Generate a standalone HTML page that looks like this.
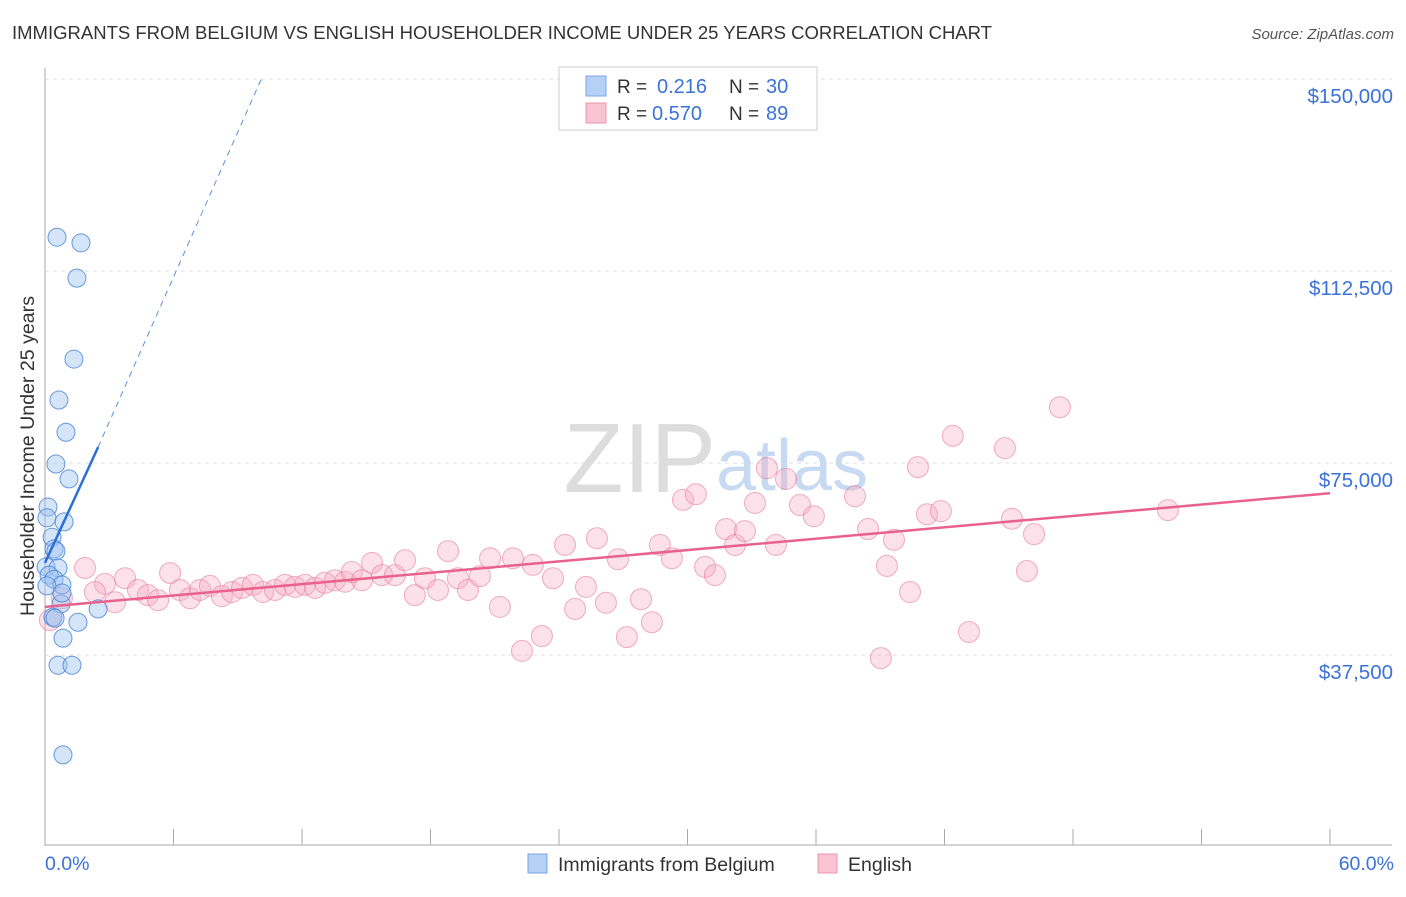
<!DOCTYPE html>
<html><head><meta charset="utf-8"><style>
body{margin:0;background:#fff;font-family:"Liberation Sans",sans-serif;}
svg text{font-family:"Liberation Sans",sans-serif;}
</style></head><body>
<svg id="c" width="1406" height="892">
<text x="12" y="39" font-size="18" fill="#333" textLength="980" lengthAdjust="spacingAndGlyphs">IMMIGRANTS FROM BELGIUM VS ENGLISH HOUSEHOLDER INCOME UNDER 25 YEARS CORRELATION CHART</text>
<text x="1394" y="39" font-size="15" fill="#555" font-style="italic" text-anchor="end">Source: ZipAtlas.com</text>
<text transform="translate(34,456) rotate(-90)" font-size="19" fill="#333" text-anchor="middle" textLength="320" lengthAdjust="spacingAndGlyphs">Householder Income Under 25 years</text>
<g id="grid"></g>
<text x="716" y="492" font-size="98" fill="#ddd" text-anchor="end" font-family="Liberation Serif">ZIP</text>
<text x="716" y="490" font-size="72" fill="#c8daf2">atlas</text>
<g id="marks"></g>
<g>
<rect x="559" y="67" width="258" height="63" fill="#fff" stroke="#ccc"/>
<rect x="586" y="76" width="20" height="20" fill="#b5d0f5" stroke="#7aa6e6"/>
<text x="617" y="93" font-size="19" fill="#333">R = </text><text x="657" y="93" font-size="20" fill="#3a72d8">0.216</text>
<text x="729" y="93" font-size="19" fill="#333">N = </text><text x="766" y="93" font-size="20" fill="#3a72d8">30</text>
<rect x="586" y="103" width="20" height="20" fill="#f8c4d4" stroke="#ec94b0"/>
<text x="617" y="120" font-size="19" fill="#333">R = </text><text x="652" y="120" font-size="20" fill="#3a72d8">0.570</text>
<text x="729" y="120" font-size="19" fill="#333">N = </text><text x="766" y="120" font-size="20" fill="#3a72d8">89</text>
</g>
<g>
<rect x="528" y="854" width="19" height="19" fill="#b5d0f5" stroke="#7aa6e6"/>
<text x="558" y="871" font-size="19.5" fill="#333">Immigrants from Belgium</text>
<rect x="818" y="854" width="19" height="19" fill="#f8c4d4" stroke="#ec94b0"/>
<text x="848" y="871" font-size="19.5" fill="#333">English</text>
</g>
</svg>
<script>
const yTicks=[37500,75000,112500,150000];
const yTickLabels=["$37,500","$75,000","$112,500","$150,000"];
const xTickLabels=["0.0%","60.0%"];
const blueX=[0.56,1.68,1.49,1.35,0.65,0.98,0.51,1.12,0.14,0.09,0.89,0.33,0.42,0.51,0.05,0.61,0.19,0.42,0.79,0.09,0.75,0.79,2.48,0.37,0.47,1.54,0.84,0.61,1.26,0.84];
const blueY=[119100,118000,111100,95300,87300,81000,74800,71900,66400,64300,63500,60500,58200,57800,54700,54500,53100,52300,51200,51000,47500,49600,46500,44900,44700,43900,40800,35500,35500,18000];
const pinkX=[1.87,2.80,3.74,3.27,2.33,4.34,4.81,5.28,5.84,6.30,6.77,7.24,7.70,8.26,8.73,9.20,9.71,10.18,10.74,11.21,11.67,12.14,12.61,13.07,13.54,14.01,14.33,14.80,15.27,15.74,16.34,16.81,17.27,17.74,18.35,18.82,19.28,19.75,20.31,20.78,21.24,21.85,22.27,22.78,23.20,23.72,24.28,24.75,25.26,25.77,26.19,26.75,27.17,27.83,28.34,28.71,29.27,29.79,30.39,30.82,31.28,31.80,32.22,32.68,33.15,33.71,34.13,34.60,35.25,35.90,37.82,38.43,39.03,39.31,39.64,40.39,40.76,41.18,41.83,42.39,43.14,44.82,45.15,45.85,46.18,47.39,52.43,0.23,0.79];
const pinkY=[54500,51400,52500,47800,49800,50200,49200,48200,53500,50200,48600,50200,51000,49000,49800,50600,51200,49800,50200,51200,50800,51200,50600,51600,52100,51800,53700,52100,55500,53100,53100,56000,49200,52500,50200,57800,52500,50200,52900,56400,46900,56400,38300,55100,41200,52500,59000,46500,50800,60300,47700,56200,41000,48400,43900,59000,56400,67800,68900,54700,53100,62100,59000,61700,67200,74000,59000,71900,66800,64600,68500,62100,36900,54900,60000,49800,74200,65000,65600,80300,42000,77900,64100,53900,61100,85900,65800,44300,48600];
const blueTrend=[0,55500,2.48,78100];
const blueDash=[2.48,78100,10.1,150000];
const pinkTrend=[0,46900,60,69100];
const X=v=>45+v/60*1285;
const Y=v=>847-v/150000*768;
const NS="http://www.w3.org/2000/svg";
const grid=document.getElementById('grid'),marks=document.getElementById('marks');
function mk(tag,at,parent){const e=document.createElementNS(NS,tag);for(const k in at)e.setAttribute(k,at[k]);parent.appendChild(e);return e;}
let ax=mk('line',{x1:45,y1:68,x2:45,y2:846,stroke:'#aaa'},grid);


let bx=mk('line',{x1:45,y1:845,x2:1392,y2:845,stroke:'#aaa'},grid);


yTicks.forEach((t,i)=>{
 let g=mk('line',{x1:45,y1:Y(t),x2:1392,y2:Y(t),stroke:'#ddd','stroke-dasharray':'4,4'},grid);
 
 
 let l=mk('text',{x:1393,y:Y(t)+24,'font-size':20.5,fill:'#3a72d8','text-anchor':'end'},grid);
 l.textContent=yTickLabels[i];
 
 
});
for(let i=0;i<=10;i++){let t=mk('line',{x1:X(i*6),y1:829,x2:X(i*6),y2:845,stroke:'#aaa'},grid);
 
 }
[[0,'start',45],[1,'end',1394]].forEach(([i,a,x])=>{let l=mk('text',{x:x,y:870,'font-size':19.5,fill:'#3a72d8','text-anchor':a},grid);l.textContent=xTickLabels[i];
 
 });
pinkX.forEach((v,i)=>{let c=mk('circle',{cx:X(v),cy:Y(pinkY[i]),r:10.5,fill:'rgba(246,170,194,0.35)',stroke:'rgba(232,120,155,0.6)','stroke-width':1},marks);
 
 });
blueX.forEach((v,i)=>{let c=mk('circle',{cx:X(v),cy:Y(blueY[i]),r:9,fill:'rgba(160,196,242,0.45)',stroke:'rgba(70,130,215,0.8)','stroke-width':1},marks);
 
 });
let pt=mk('line',{x1:X(pinkTrend[0]),y1:Y(pinkTrend[1]),x2:X(pinkTrend[2]),y2:Y(pinkTrend[3]),stroke:'#e8628d','stroke-width':2.5},marks);


let bt=mk('line',{x1:X(blueTrend[0]),y1:Y(blueTrend[1]),x2:X(blueTrend[2]),y2:Y(blueTrend[3]),stroke:'#2a6fd8','stroke-width':2.5},marks);


let bd=mk('line',{x1:X(blueDash[0]),y1:Y(blueDash[1]),x2:X(blueDash[2]),y2:Y(blueDash[3]),stroke:'#5b8fdc','stroke-width':1,'stroke-dasharray':'6,5'},marks);


</script>
</body></html>
